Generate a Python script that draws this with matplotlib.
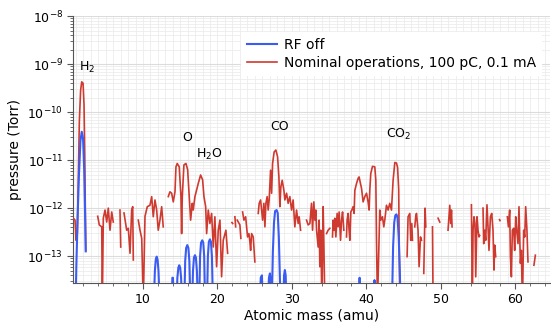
import numpy as np
import matplotlib
matplotlib.use("Agg")
import matplotlib.pyplot as plt
from matplotlib.ticker import MultipleLocator, LogLocator, NullFormatter

nan = np.nan

# red trace: Nominal operations (amu, log10 pressure); nan = gap, -14 = below axis
red_amu = [0.60, 0.87, 1.01, 1.18, 1.32, 1.45, 1.62, 1.77, 1.95, 2.08, 2.18, 2.31, 2.50,
           3.92, 4.13, 4.46, 4.54, 4.67, 4.90, 5.13, 5.34, 5.57, 5.80, 6.01, 6.40,
           6.91, 7.01, 7.20, 7.45, 7.81, 8.03, 8.26, 8.48, 8.62, 8.70, 9.00,
           9.37, 9.60, 9.83, 10.04, 10.27, 10.58, 10.94,
           11.17, 11.38, 11.61, 11.84, 12.05, 12.28, 12.51, 12.72, 13.00,
           13.40, 13.62, 13.85, 14.07, 14.30, 14.43, 14.60, 14.87, 15.10, 15.19, 15.28,
           15.50, 15.77, 16.00, 16.21, 16.40, 16.62, 16.75, 16.98, 17.42, 17.74, 18.01,
           18.19, 18.42, 18.55, 18.77, 18.99, 19.22, 19.44, 19.66, 19.89, 20.11, 20.34,
           20.56, 20.78, 21.14, 21.37, 21.55,
           21.95, 22.05, 22.20, 22.35, 22.45, 22.55, 22.66, 23.02, 23.15, 23.25,
           23.38, 23.56, 23.79, 23.92, 24.05, 24.23, 24.36, 24.46, 24.59, 24.81, 25.03, 25.20,
           25.48, 25.61, 25.80, 25.93, 26.07, 26.24, 26.38, 26.51, 26.68, 26.82, 26.95,
           27.14, 27.28, 27.41, 27.62, 27.85, 28.08, 28.26, 28.39, 28.52, 28.70, 28.93,
           29.06, 29.29, 29.50, 29.73, 29.96, 30.17, 30.40, 30.63, 30.85, 30.98, 31.17, 31.50,
           31.97, 32.19, 32.42, 32.64, 32.78, 32.95, 33.09, 33.22, 33.32, 33.53, 33.66,
           33.76, 33.89, 34.03, 34.20, 34.30, 34.43, 34.55,
           34.66, 34.87, 35.10, 35.30,
           35.46, 35.54, 35.68, 35.77, 35.91, 36.08, 36.21, 36.35, 36.54, 36.67, 36.81, 36.98, 37.15,
           37.34, 37.42, 37.56, 37.69, 37.79, 37.92, 38.05, 38.23, 38.36, 38.46, 38.68,
           38.90, 39.03, 39.22, 39.36, 39.57, 39.80, 40.03, 40.24, 40.38, 40.47, 40.60,
           40.83, 41.14, 41.28, 41.37, 41.50, 41.81, 41.95, 42.17, 42.35, 42.48, 42.71,
           42.93, 43.15, 43.38, 43.60, 43.83, 44.05, 44.20, 44.35, 44.50, 44.70,
           45.48, 45.61, 45.84, 45.97, 46.11, 46.20, 46.40,
           46.51, 46.64, 46.74, 46.95, 47.09, 47.28, 47.41, 47.60,
           47.72, 47.89, 47.99, 48.30, 48.89, 48.97, 49.20, 49.64, 49.87, 50.50,
           50.98, 51.21, 51.34, 51.44, 51.52, 52.00,
           54.12, 54.25, 54.34, 54.47, 54.60, 54.70, 54.87, 55.01, 55.14, 55.23, 55.50,
           55.68, 55.77, 55.91, 56.04, 56.21, 56.35, 56.48, 56.67, 56.85, 57.02, 57.15,
           57.25, 57.38, 57.60, 57.90, 57.96, 58.20,
           58.95, 59.09, 59.26, 59.36, 59.49, 59.62, 59.80, 59.93, 60.07, 60.20, 60.38,
           60.51, 60.70, 60.83, 60.97, 61.14, 61.28, 61.41, 61.58, 61.72, 62.20,
           62.52, 62.71]
red_log = [-12.20, -12.25, -12.67, -12.52, -11.30, -10.20, -9.55, -9.37, -9.40, -9.85, -10.90, -12.88, nan,
           -12.17, -12.35, -12.39, -14.0, -12.21, -12.04, -12.29, -12.00, -12.46, -12.08, -12.29, nan,
           -12.04, -12.81, nan, -12.10, -12.46, -12.42, -12.94, -12.04, -11.97, -13.08, nan,
           -12.25, -12.46, -12.63, -14.0, -12.17, -11.97, -11.94,
           -11.76, -12.18, -11.83, -12.04, -12.46, -12.25, -11.97, -12.39, nan,
           -11.76, -11.66, -11.69, -11.87, -11.66, -11.14, -11.07, -11.14, -11.76, -12.53, -11.76,
           -11.10, -11.07, -11.20, -11.76, -12.25, -11.90, -12.04, -11.76, -11.49, -11.31, -11.41,
           -11.76, -11.97, -12.53, -12.04, -12.32, -12.11, -12.81, -12.18, -13.22, -12.46, -12.25,
           -13.43, -12.67, -12.46, -12.94, nan,
           -12.30, -12.32, nan, -12.18, -12.39, nan, -12.25, -12.35, -12.63, nan,
           -12.08, -12.25, -12.18, -12.39, -12.60, -12.53, -12.70, -12.88, -12.53, -12.60, -13.12, nan,
           -12.11, -11.90, -11.83, -12.04, -12.25, -11.90, -12.39, -11.90, -11.76, -12.04, -11.83,
           -11.21, -11.69, -11.07, -10.83, -10.79, -10.93, -11.35, -11.97, -11.56, -11.42, -11.63,
           -11.83, -11.69, -11.90, -11.76, -12.04, -11.83, -12.39, -12.04, -12.32, -12.18, -12.46, nan,
           -12.25, -12.35, -12.32, -11.90, -12.46, -11.87, -12.25, -12.04, -12.46, -12.81, -12.25,
           -13.22, -12.46, -14.0, -11.97, -12.74, -14.0, nan,
           -12.53, -12.46, -12.42, nan,
           -12.60, -12.25, -12.46, -12.21, -12.60, -12.11, -12.39, -12.08, -12.67, -12.25, -12.08, -12.46, nan,
           -12.60, -12.25, -12.11, -12.46, -12.67, -12.08, -12.04, -11.97, -12.11, -11.63, -11.49,
           -11.38, -11.35, -11.49, -11.59, -11.87, -11.76, -11.69, -11.87, -12.04, -11.63, -11.28,
           -11.13, -11.14, -11.42, -12.67, -14.0, -12.04, -12.25, -12.18, -12.39, -12.25, -11.94,
           -12.04, -11.90, -12.04, -11.42, -11.05, -11.06, -11.15, -11.60, -14.0, nan,
           -13.01, -12.18, -12.11, -12.67, -12.32, -12.67, nan,
           -12.39, -12.18, -12.11, -12.46, -13.22, -12.60, -12.67, nan,
           -13.36, -12.00, -12.39, nan, -12.39, -14.0, nan, -12.21, -12.29, nan,
           -12.46, -11.94, -12.32, -12.04, -12.39, nan,
           -11.93, -14.0, -12.46, -12.18, -12.32, -13.43, -12.18, -12.46, -12.60, -12.57, nan,
           -12.00, -12.74, -12.46, -12.67, -11.93, -12.39, -12.88, -12.18, -12.11, -12.46, -13.29,
           -12.77, -13.01, nan, -12.24, -12.26, nan,
           -12.18, -12.39, -12.04, -13.01, -13.43, -12.46, -12.42, -12.88, -12.18, -12.46, -12.74,
           -11.97, -13.15, -12.88, -14.0, -12.46, -12.60, -11.97, -12.46, -13.12, nan,
           -13.19, -12.98]

# blue trace: RF off
blue_amu = [0.95, 1.05, 1.20, 1.40, 1.60, 1.77, 1.95, 2.10, 2.22, 2.31, 2.50,
            11.45, 11.60, 11.72, 11.84, 11.96, 12.08, 12.25,
            13.85, 13.95, 14.03, 14.12,
            14.50, 14.62, 14.75, 14.87, 15.00, 15.12, 15.25,
            15.55, 15.67, 15.80, 15.95, 16.10, 16.23, 16.38,
            16.60, 16.72, 16.85, 16.98, 17.11, 17.24, 17.38,
            17.55, 17.67, 17.80, 17.96, 18.10, 18.22, 18.35,
            18.60, 18.72, 18.85, 18.99, 19.13, 19.26, 19.40,
            25.70, 25.82, 25.98, 26.10,
            26.80, 26.92, 27.05, 27.15, 27.25,
            27.30, 27.45, 27.60, 27.75, 27.95, 28.10, 28.25, 28.40, 28.50,
            28.85, 28.95, 29.06, 29.17, 29.27,
            39.00, 39.10, 39.20,
            41.00, 41.10, 41.20,
            43.45, 43.60, 43.75, 43.90, 44.05, 44.20, 44.35, 44.50, 44.60]
blue_log = [-14.0, -13.2, -12.3, -11.3, -10.6, -10.41, -10.55, -11.2, -12.1, -12.9, nan,
            -14.0, -13.3, -13.07, -13.01, -13.07, -13.3, -14.0,
            -14.0, -13.45, -13.45, -14.0,
            -14.0, -13.45, -13.24, -13.19, -13.24, -13.45, -14.0,
            -14.0, -13.1, -12.83, -12.77, -12.83, -13.1, -14.0,
            -14.0, -13.3, -13.03, -12.98, -13.03, -13.3, -14.0,
            -14.0, -13.0, -12.72, -12.67, -12.72, -13.0, -14.0,
            -14.0, -13.0, -12.70, -12.65, -12.70, -13.0, -14.0,
            -14.0, -13.45, -13.40, -14.0,
            -14.0, -13.45, -13.36, -13.5, -14.0,
            -14.0, -12.9, -12.3, -12.06, -12.04, -12.1, -12.6, -13.5, -14.0,
            -14.0, -13.4, -13.29, -13.4, -14.0,
            -14.0, -13.45, -14.0,
            -14.0, -13.5, -14.0,
            -14.0, -12.8, -12.3, -12.15, -12.13, -12.2, -12.6, -13.3, -14.0]

labels = ["H$_2$", "O", "H$_2$O", "CO", "CO$_2$"]
label_amu = [2.5, 16.0, 18.9, 28.3, 44.4]
label_log = [-9.08, -10.52, -10.88, -10.31, -10.46]

red_p = 10.0 ** np.array(red_log)
blue_p = 10.0 ** np.array(blue_log)

fig = plt.figure(figsize=(5.51, 3.28), dpi=100)
ax = fig.add_axes([0.1325, 0.137, 0.866, 0.814])

ax.plot(red_amu, red_p, color="#cf3a30", lw=1.2, label="Nominal operations, 100 pC, 0.1 mA", zorder=3)
ax.plot(blue_amu, blue_p, color="#3a5cf2", lw=1.5, label="RF off", zorder=4)

ax.set_yscale("log")
ax.set_xlim(0.6, 64.7)
ax.set_ylim(2.75e-14, 1e-8)

ax.xaxis.set_major_locator(MultipleLocator(10))
ax.xaxis.set_minor_locator(MultipleLocator(2))
ax.yaxis.set_major_locator(LogLocator(base=10, numticks=12))
ax.yaxis.set_minor_locator(LogLocator(base=10, subs=np.arange(2, 10), numticks=12))
ax.yaxis.set_minor_formatter(NullFormatter())

# light grid: every amu, every log sub-step
for xv in np.arange(1, 65):
    ax.axvline(xv, color="#ececec", lw=0.6, zorder=0)
ax.grid(True, which="minor", axis="y", color="#ececec", lw=0.6)
ax.grid(True, which="major", axis="y", color="#dcdcdc", lw=0.8)
ax.set_axisbelow(True)

for s in ["top", "right"]:
    ax.spines[s].set_visible(False)
for s in ["left", "bottom"]:
    ax.spines[s].set_color("#555555")
    ax.spines[s].set_linewidth(0.8)

ax.tick_params(which="major", length=4, width=0.8, color="#555555", labelsize=9, pad=3)
ax.tick_params(which="minor", length=2.5, width=0.6, color="#555555")

ax.set_xlabel("Atomic mass (amu)", fontsize=10, labelpad=2)
ax.set_ylabel("pressure (Torr)", fontsize=10, labelpad=4)

for t, xa, ya in zip(labels, label_amu, label_log):
    ax.text(xa, 10.0 ** ya, t, fontsize=9, ha="center", va="center")

h, l = ax.get_legend_handles_labels()
leg = ax.legend(h[::-1], l[::-1], loc="upper left", bbox_to_anchor=(0.338, 0.965),
                fontsize=10, frameon=True, fancybox=False, handlelength=2.2,
                handletextpad=0.5, labelspacing=0.3, borderpad=0.4)
leg.get_frame().set_edgecolor("none")
leg.get_frame().set_facecolor("white")
leg.get_frame().set_alpha(1.0)

fig.savefig("out.png", dpi=100)
